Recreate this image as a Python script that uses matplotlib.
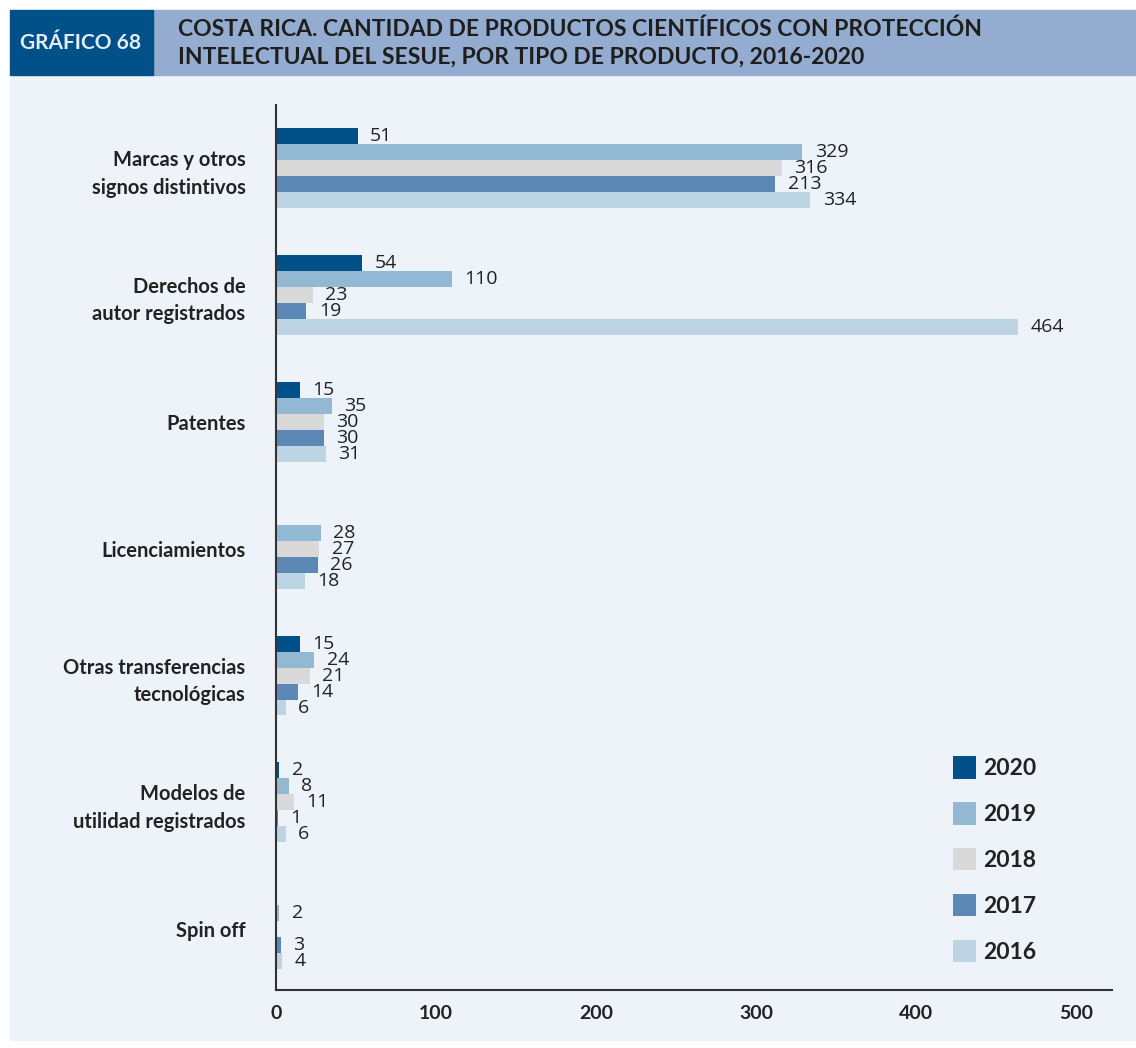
import matplotlib
matplotlib.use('Agg')
import matplotlib.pyplot as plt
from matplotlib.patches import Rectangle
import numpy as np

plt.rcParams['font.family'] = ['Lato', 'DejaVu Sans']

categories = ['Marcas y otros\nsignos distintivos', 'Derechos de\nautor registrados',
              'Patentes', 'Licenciamientos', 'Otras transferencias\ntecnológicas',
              'Modelos de\nutilidad registrados', 'Spin off']
years = ['2020', '2019', '2018', '2017', '2016']
# None = no bar for that year
v2020 = [51, 54, 15, None, 15, 2, None]
v2019 = [329, 110, 35, 28, 24, 8, 2]
v2018 = [316, 23, 30, 27, 21, 11, None]
v2017 = [312, 19, 30, 26, 14, 1, 3]   # bar drawn at ~312 in the source
v2016 = [334, 464, 31, 18, 6, 6, 4]
# printed label in the source differs from the bar length here
label_2017 = ['213', '19', '30', '26', '14', '1', '3']
series = [v2020, v2019, v2018, v2017, v2016]
colors = ['#00508A', '#93B8D4', '#D9D9D9', '#5B88B5', '#BDD4E5']
xticks = [0, 100, 200, 300, 400, 500]

W, H = 1136, 1048
fig = plt.figure(figsize=(W / 100, H / 100), dpi=100)
fig.patch.set_facecolor('white')

# panel background and header
fig.patches.append(Rectangle((10 / W, 1 - 1040 / H), 1 - 10 / W, (1040 - 75) / H,
                             transform=fig.transFigure, color='#EEF3FA', zorder=-2))
fig.patches.append(Rectangle((153 / W, 1 - 75 / H), 1 - 153 / W, 65 / H,
                             transform=fig.transFigure, color='#93ACCF', zorder=-2))
fig.patches.append(Rectangle((10 / W, 1 - 75 / H), 143 / W, 65 / H,
                             transform=fig.transFigure, color='#00508A', zorder=-2))
fig.text(81 / W, 1 - 43 / H, 'GRÁFICO 68', color='#E4ECF6', fontsize=15,
         fontweight='bold', ha='center', va='center')
fig.text(178 / W, 1 - 43 / H,
         'COSTA RICA. CANTIDAD DE PRODUCTOS CIENTÍFICOS CON PROTECCIÓN\n'
         'INTELECTUAL DEL SESUE, POR TIPO DE PRODUCTO, 2016-2020',
         color='#1E1E1E', fontsize=16.5, fontweight='bold', ha='left', va='center',
         linespacing=1.35)

ax = fig.add_axes([276 / W, 1 - 990 / H, (1112 - 276) / W, (990 - 105) / H])
ax.set_facecolor('none')

y = np.arange(len(categories))
bh = 0.126
for i, (vals, col, yr) in enumerate(zip(series, colors, years)):
    widths = [np.nan if v is None else v for v in vals]
    bars = ax.barh(y + (i - 2) * bh, widths, height=bh, color=col, label=yr, zorder=2)
    if yr == '2017':
        labels = label_2017
    else:
        labels = ['' if v is None else str(v) for v in vals]
    ax.bar_label(bars, labels=labels, padding=9, fontsize=14, color='#222222',
                 family=['Open Sans', 'DejaVu Sans'])

ax.set_xlim(0, 522.5)
ax.set_ylim(6.48, -0.5)
ax.set_xticks(xticks)
ax.set_xticklabels([str(t) for t in xticks], fontsize=14, fontweight='bold', color='#222222')
ax.set_yticks(y)
ax.set_yticklabels(categories, fontsize=14.5, fontweight='bold', color='#222222',
                   linespacing=1.45)
ax.tick_params(axis='both', length=0)
ax.tick_params(axis='y', pad=22)
ax.tick_params(axis='x', pad=11)
for side in ['top', 'right']:
    ax.spines[side].set_visible(False)
for side in ['left', 'bottom']:
    ax.spines[side].set_color('#333333')
    ax.spines[side].set_linewidth(1.5)

leg = ax.legend(loc='upper left', bbox_to_anchor=((944 - 276) / (1112 - 276), 1 - (747 - 105) / (990 - 105)),
                frameon=False, prop={'size': 16.5, 'weight': 'bold'},
                handlelength=1.0, handleheight=1.13, labelspacing=1.0, handletextpad=0.3,
                borderaxespad=0)
for t in leg.get_texts():
    t.set_color('#222222')

fig.savefig('out.png', dpi=100, facecolor='white')
